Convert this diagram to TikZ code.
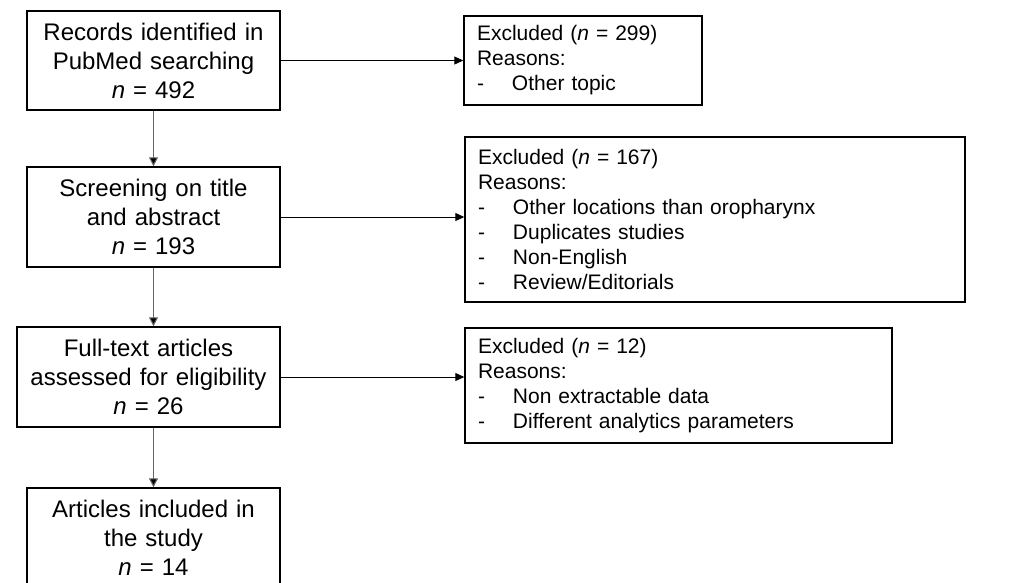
\documentclass[tikz,border=0pt]{standalone}
\usepackage{fontspec}
\setmainfont{Liberation Sans}
\usetikzlibrary{arrows.meta}
\tikzset{
  mainbox/.style={draw=black, line width=1.4pt, inner xsep=0pt, inner ysep=0pt,
    align=center, font=\fontsize{24}{29}\selectfont},
  exclbox/.style={draw=black, line width=1.4pt, inner xsep=13pt, inner ysep=0pt,
    align=left, font=\fontsize{21}{25}\selectfont},
  vconn/.style={draw=black!60, line width=1.1pt, -{Triangle[length=9pt,width=9pt,fill=black]}},
  hconn/.style={draw=black, line width=0.9pt, -{Triangle[length=9pt,width=8pt]}}
}
\newcommand{\itm}[1]{\makebox[35pt][l]{-}#1}
\begin{document}
\begin{tikzpicture}[x=1pt,y=-1pt]
\useasboundingbox (0,0) rectangle (1022,582);
\node[mainbox, text width=253pt, minimum width=253pt, minimum height=99pt] (b1) at (153.5,60.5)
  {Records identified in\\PubMed searching\\\textit{n} = 492};
\node[mainbox, text width=253pt, minimum width=253pt, minimum height=100pt] (b2) at (153.5,217)
  {Screening on title\\and abstract\\\textit{n} = 193};
\node[mainbox, text width=263pt, minimum width=263pt, minimum height=100pt] (b3) at (148.5,377)
  {Full-text articles\\assessed for eligibility\\\textit{n} = 26};
\node[mainbox, text width=253pt, minimum width=253pt, minimum height=100pt] (b4) at (153.5,538)
  {Articles included in\\the study\\\textit{n} = 14};
\node[exclbox, text width=212pt, minimum height=89pt] (r1) at (583,60.5)
  {Excluded (\textit{n} = 299)\\Reasons:\\\itm{Other topic}};
\node[exclbox, text width=474pt, minimum height=165pt] (r2) at (715,219.5)
  {Excluded (\textit{n} = 167)\\Reasons:\\\itm{Other locations than oropharynx}\\\itm{Duplicates studies}\\\itm{Non-English}\\\itm{Review/Editorials}};
\node[exclbox, text width=401pt, minimum height=115pt] (r3) at (678.5,385.5)
  {Excluded (\textit{n} = 12)\\Reasons:\\\itm{Non extractable data}\\\itm{Different analytics parameters}};
\draw[vconn] (b1.south) -- (b2.north);
\draw[vconn] (b2.south) -- (b2.south |- b3.north);
\draw[vconn] (b4.north |- b3.south) -- (b4.north);
\draw[hconn] (b1.east) -- (b1.east -| r1.west);
\draw[hconn] (b2.east) -- (b2.east -| r2.west);
\draw[hconn] (b3.east) -- (b3.east -| r3.west);
\end{tikzpicture}
\end{document}
